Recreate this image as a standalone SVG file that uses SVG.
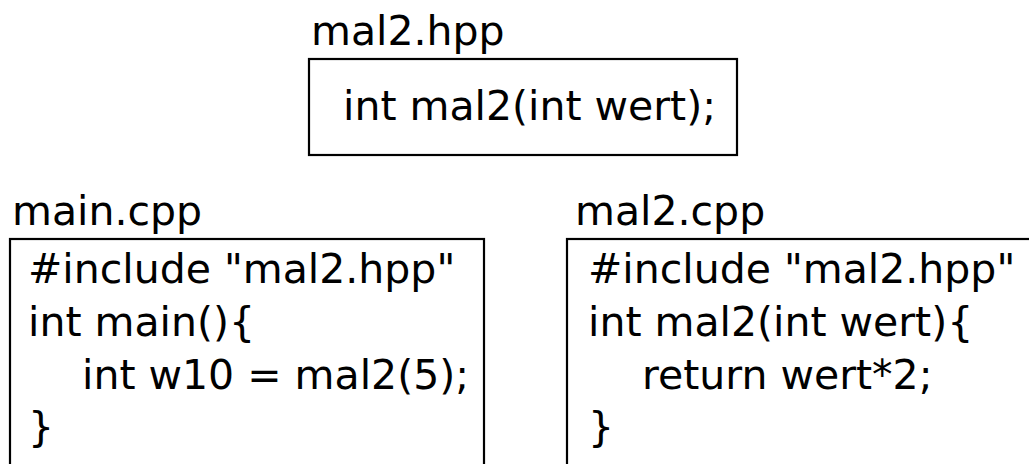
<svg xmlns="http://www.w3.org/2000/svg" width="1029" height="464" viewBox="0 0 1029 464">
<style>
.box{fill:#fff;stroke:#000;stroke-width:2.2}
text{font-family:"DejaVu Sans",sans-serif;font-size:41px;fill:#000}
</style>
<rect width="1029" height="464" fill="#fff"/>
<g id="mal2_hpp">
<text x="311" y="45">mal2.hpp</text>
<rect class="box" x="309" y="59" width="428" height="96"/>
<text x="343" y="120">int mal2(int wert);</text>
</g>
<g id="main_cpp">
<text x="12" y="225">main.cpp</text>
<rect class="box" x="10" y="239" width="474" height="300"/>
<text x="28" y="283">#include "mal2.hpp"</text>
<text x="28" y="336">int main(){</text>
<text x="82" y="389">int w10 = mal2(5);</text>
<text x="28" y="441">}</text>
</g>
<g id="mal2_cpp">
<text x="575" y="225">mal2.cpp</text>
<rect class="box" x="567" y="239" width="500" height="300"/>
<text x="588" y="283">#include "mal2.hpp"</text>
<text x="588" y="336">int mal2(int wert){</text>
<text x="642" y="389">return wert*2;</text>
<text x="588" y="441">}</text>
</g>
<g id="connectors"></g>
</svg>
